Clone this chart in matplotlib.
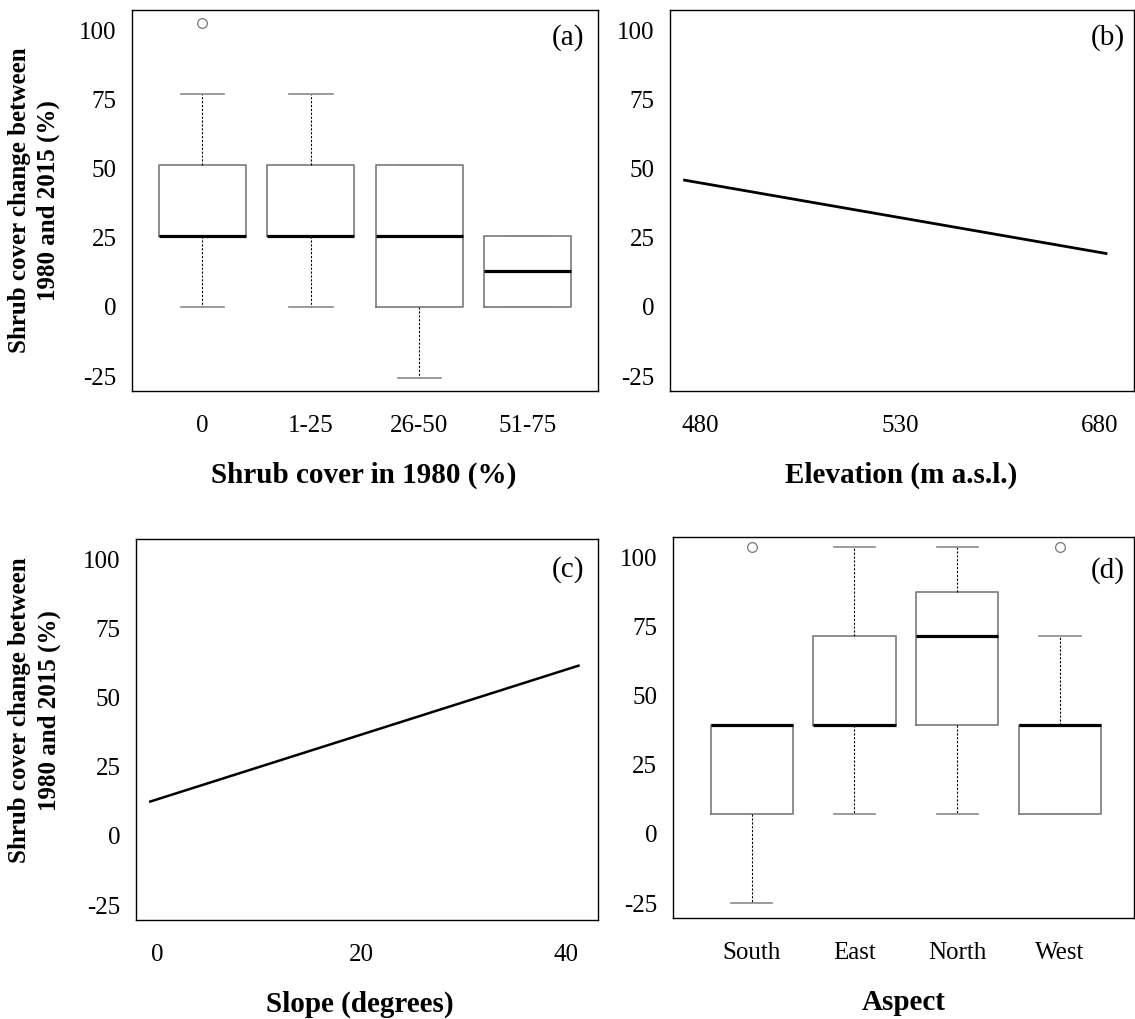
import matplotlib.pyplot as plt

plt.rcParams['font.family'] = ['Liberation Serif', 'DejaVu Serif']

# (a) shrub cover in 1980 classes
cover_cats = ['0', '1-25', '26-50', '51-75']
cover_whislo = [0, 0, -25.6, 0]
cover_q1 = [25.6, 25.6, 0, 0]
cover_med = [25.6, 25.6, 25.6, 12.8]
cover_q3 = [51.3, 51.3, 51.3, 25.6]
cover_whishi = [76.9, 76.9, 51.3, 25.6]
cover_fliers = [[102.5], [], [], []]

# (b) elevation model line
elev_ticks = [0, 1, 2]
elev_labels = ['480', '530', '680']
elev_x = [-0.08, 2.03]
elev_y = [45.8, 19.3]

# (c) slope model line
slope_ticks = [0, 20, 40]
slope_x = [-0.65, 41.2]
slope_y = [12.4, 61.5]

# (d) aspect
aspect_cats = ['South', 'East', 'North', 'West']
aspect_whislo = [-25.1, 7.1, 7.1, 7.1]
aspect_q1 = [7.1, 39.2, 39.2, 7.1]
aspect_med = [39.2, 39.2, 71.4, 39.2]
aspect_q3 = [39.2, 71.4, 87.5, 39.2]
aspect_whishi = [39.2, 103.6, 103.6, 71.4]
aspect_fliers = [[103.6], [], [], [103.6]]

y_ticks = [-25, 0, 25, 50, 75, 100]
ylab = 'Shrub cover change between\n1980 and 2015 (%)'

fig = plt.figure(figsize=(11.35, 10.19), dpi=100)
ax_a = fig.add_axes([0.1163, 0.6163, 0.4106, 0.3739])
ax_b = fig.add_axes([0.5903, 0.6163, 0.4088, 0.3739])
ax_c = fig.add_axes([0.1198, 0.0972, 0.4070, 0.3739])
ax_d = fig.add_axes([0.5926, 0.0991, 0.4065, 0.3739])


def make_stats(cats, lo, q1, med, q3, hi, fl):
    stats = []
    for i in range(len(cats)):
        stats.append(dict(whislo=lo[i], q1=q1[i], med=med[i], q3=q3[i],
                          whishi=hi[i], fliers=fl[i], label=cats[i]))
    return stats


def draw_box(ax, stats):
    ax.bxp(stats, widths=0.8, showfliers=True,
           boxprops=dict(color='#7a7a7a', linewidth=1.2),
           medianprops=dict(color='black', linewidth=2.3),
           whiskerprops=dict(color='black', linewidth=0.8, linestyle=(0, (2, 1.5))),
           capprops=dict(color='#8a8a8a', linewidth=1.2),
           capwidths=0.4,
           flierprops=dict(marker='o', markersize=7, markerfacecolor='none',
                           markeredgecolor='#777777', markeredgewidth=0.9))


draw_box(ax_a, make_stats(cover_cats, cover_whislo, cover_q1, cover_med,
                          cover_q3, cover_whishi, cover_fliers))
ax_a.set_xlim(0.35, 4.65)

ax_b.plot(elev_x, elev_y, color='black', linewidth=2)
ax_b.set_xticks(elev_ticks)
ax_b.set_xticklabels(elev_labels)
ax_b.set_xlim(-0.153, 2.17)

ax_c.plot(slope_x, slope_y, color='black', linewidth=1.8)
ax_c.set_xticks(slope_ticks)
ax_c.set_xlim(-2.05, 43.1)

draw_box(ax_d, make_stats(aspect_cats, aspect_whislo, aspect_q1, aspect_med,
                          aspect_q3, aspect_whishi, aspect_fliers))
ax_d.set_xlim(0.23, 4.72)

xlabels = ['Shrub cover in 1980 (%)', 'Elevation (m a.s.l.)',
           'Slope (degrees)', 'Aspect']
tags = ['(a)', '(b)', '(c)', '(d)']
tag_pos = [(0.936, 0.927), (0.944, 0.927), (0.935, 0.919), (0.944, 0.913)]
xlab_x = [0.498, 0.498, 0.485, 0.5]

for i, ax in enumerate([ax_a, ax_b, ax_c, ax_d]):
    ax.set_ylim(-30.4, 107.3)
    ax.set_yticks(y_ticks)
    ax.set_yticklabels([str(v) for v in y_ticks])
    ax.tick_params(axis='both', length=0, labelsize=18)
    ax.tick_params(axis='y', pad=11)
    ax.tick_params(axis='x', pad=17)
    for s in ax.spines.values():
        s.set_linewidth(1.0)
        s.set_color('black')
    ax.set_xlabel(xlabels[i], fontsize=21, fontweight='bold')
    ax.xaxis.set_label_coords(xlab_x[i], -0.185)
    ax.text(tag_pos[i][0], tag_pos[i][1], tags[i], transform=ax.transAxes,
            fontsize=21, ha='center', va='center')

ax_a.text(-0.21, 0.5, ylab, transform=ax_a.transAxes, rotation=90,
          fontsize=18, fontweight='bold', ha='center', va='center',
          multialignment='center', linespacing=1.35)
ax_c.text(-0.22, 0.55, ylab, transform=ax_c.transAxes, rotation=90,
          fontsize=18, fontweight='bold', ha='center', va='center',
          multialignment='center', linespacing=1.35)

fig.savefig('out.png', dpi=100)
